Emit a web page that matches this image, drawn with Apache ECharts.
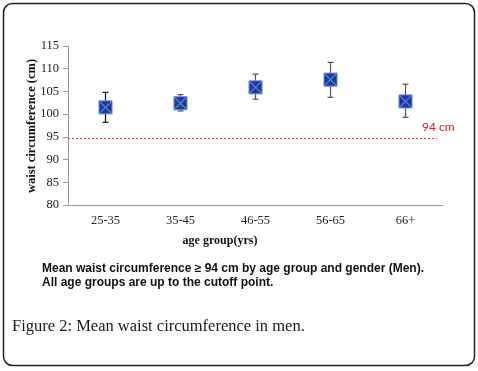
<!DOCTYPE html>
<html>
<head>
<meta charset="utf-8">
<script src="https://cdn.jsdelivr.net/npm/echarts@6/dist/echarts.min.js"></script>
<style>
  html, body { margin: 0; padding: 0; background: #fff; }
  #main { width: 478px; height: 371px; }
</style>
</head>
<body>
<div id="main"></div>
<script>
// age groups and read-off values (cm)
var ageGroups = ['25-35', '35-45', '46-55', '56-65', '66+'];
var meanWaist = [101.5, 102.4, 105.9, 107.6, 102.8];
var lowerBar = [98.2, 100.7, 103.3, 103.7, 99.3];
var upperBar = [104.8, 104.3, 108.8, 111.4, 106.6];
var cutoff = 94.6;
var cutoffLabel = '94 cm';

var serif = '"Liberation Serif", "DejaVu Serif", serif';
var sans = '"Liberation Sans", Arial, sans-serif';

var barData = ageGroups.map(function (g, i) { return [i, lowerBar[i], upperBar[i]]; });
var meanData = ageGroups.map(function (g, i) { return [i, meanWaist[i]]; });

var myChart = echarts.init(document.getElementById('main'));

myChart.setOption({
  animation: false,
  grid: { left: 68, right: 35, top: 46, bottom: 166 },
  xAxis: {
    type: 'category',
    data: ageGroups,
    axisLine: { lineStyle: { color: '#9a9a9a' } },
    axisTick: { alignWithLabel: true, length: 4, lineStyle: { color: '#9a9a9a' } },
    axisLabel: { fontFamily: serif, fontSize: 12.5, color: '#222', margin: 9 }
  },
  yAxis: {
    type: 'value',
    min: 80,
    max: 115,
    interval: 5,
    axisLine: { show: true, lineStyle: { color: '#9a9a9a' } },
    axisTick: { show: true, length: 5, lineStyle: { color: '#9a9a9a' } },
    axisLabel: { fontFamily: serif, fontSize: 12.5, color: '#222', margin: 9 },
    splitLine: { show: false }
  },
  graphic: [
    {
      type: 'rect',
      shape: { x: 3.5, y: 3.5, width: 471, height: 362, r: 9 },
      style: { fill: 'none', stroke: '#222', lineWidth: 1.5 },
      silent: true
    },
    {
      type: 'text', x: 32, y: 126, rotation: Math.PI / 2,
      style: {
        text: 'waist circumference (cm)', font: 'bold 12.5px ' + serif,
        fill: '#111', align: 'center', verticalAlign: 'middle'
      }
    },
    {
      type: 'text', x: 220, y: 241,
      style: {
        text: 'age group(yrs)', font: 'bold 12px ' + serif,
        fill: '#111', align: 'center', verticalAlign: 'middle'
      }
    },
    {
      type: 'text', x: 42, y: 269,
      style: {
        text: 'Mean waist circumference \u2265 94 cm by age group and gender (Men).',
        font: 'bold 12px ' + sans, fill: '#111', verticalAlign: 'middle'
      }
    },
    {
      type: 'text', x: 42, y: 283,
      style: {
        text: 'All age groups are up to the cutoff point.',
        font: 'bold 12px ' + sans, fill: '#111', verticalAlign: 'middle'
      }
    },
    {
      type: 'text', x: 12, y: 327,
      style: {
        text: 'Figure 2: Mean waist circumference in men.',
        font: '16.5px ' + serif, fill: '#1a1a1a', verticalAlign: 'middle'
      }
    }
  ],
  series: [
    {
      name: 'range',
      type: 'custom',
      data: barData,
      z: 2,
      renderItem: function (params, api) {
        var x = api.value(0);
        var lo = api.coord([x, api.value(1)]);
        var hi = api.coord([x, api.value(2)]);
        var cap = 3;
        var st = { stroke: params.dataIndex === 0 ? '#111' : '#555', lineWidth: 1.2 };
        return {
          type: 'group',
          children: [
            { type: 'line', shape: { x1: hi[0], y1: hi[1], x2: lo[0], y2: lo[1] }, style: st },
            { type: 'line', shape: { x1: hi[0] - cap, y1: hi[1], x2: hi[0] + cap, y2: hi[1] }, style: st },
            { type: 'line', shape: { x1: lo[0] - cap, y1: lo[1], x2: lo[0] + cap, y2: lo[1] }, style: st }
          ]
        };
      },
      markLine: {
        silent: true,
        symbol: 'none',
        lineStyle: { color: '#e04040', type: [2, 2], width: 1 },
        label: {
          show: true,
          formatter: cutoffLabel,
          position: 'end',
          color: '#d02020',
          fontFamily: 'Lato, "Open Sans", sans-serif',
          fontSize: 12,
          offset: [-20, -12]
        },
        data: [[{ x: 68, yAxis: cutoff }, { x: 437, yAxis: cutoff }]]
      }
    },
    {
      name: 'mean',
      type: 'custom',
      data: meanData,
      z: 3,
      renderItem: function (params, api) {
        var p = api.coord([api.value(0), api.value(1)]);
        var h = 6.5;
        var xs = { stroke: '#2fa89a', lineWidth: 1.2 };
        return {
          type: 'group',
          children: [
            {
              type: 'rect',
              shape: { x: p[0] - h, y: p[1] - h, width: 2 * h, height: 2 * h },
              style: { fill: '#2c2cb4', stroke: '#6a86d6', lineWidth: 1 }
            },
            { type: 'line', shape: { x1: p[0] - h, y1: p[1] - h, x2: p[0] + h, y2: p[1] + h }, style: xs },
            { type: 'line', shape: { x1: p[0] - h, y1: p[1] + h, x2: p[0] + h, y2: p[1] - h }, style: xs }
          ]
        };
      }
    }
  ]
});
</script>
</body>
</html>
